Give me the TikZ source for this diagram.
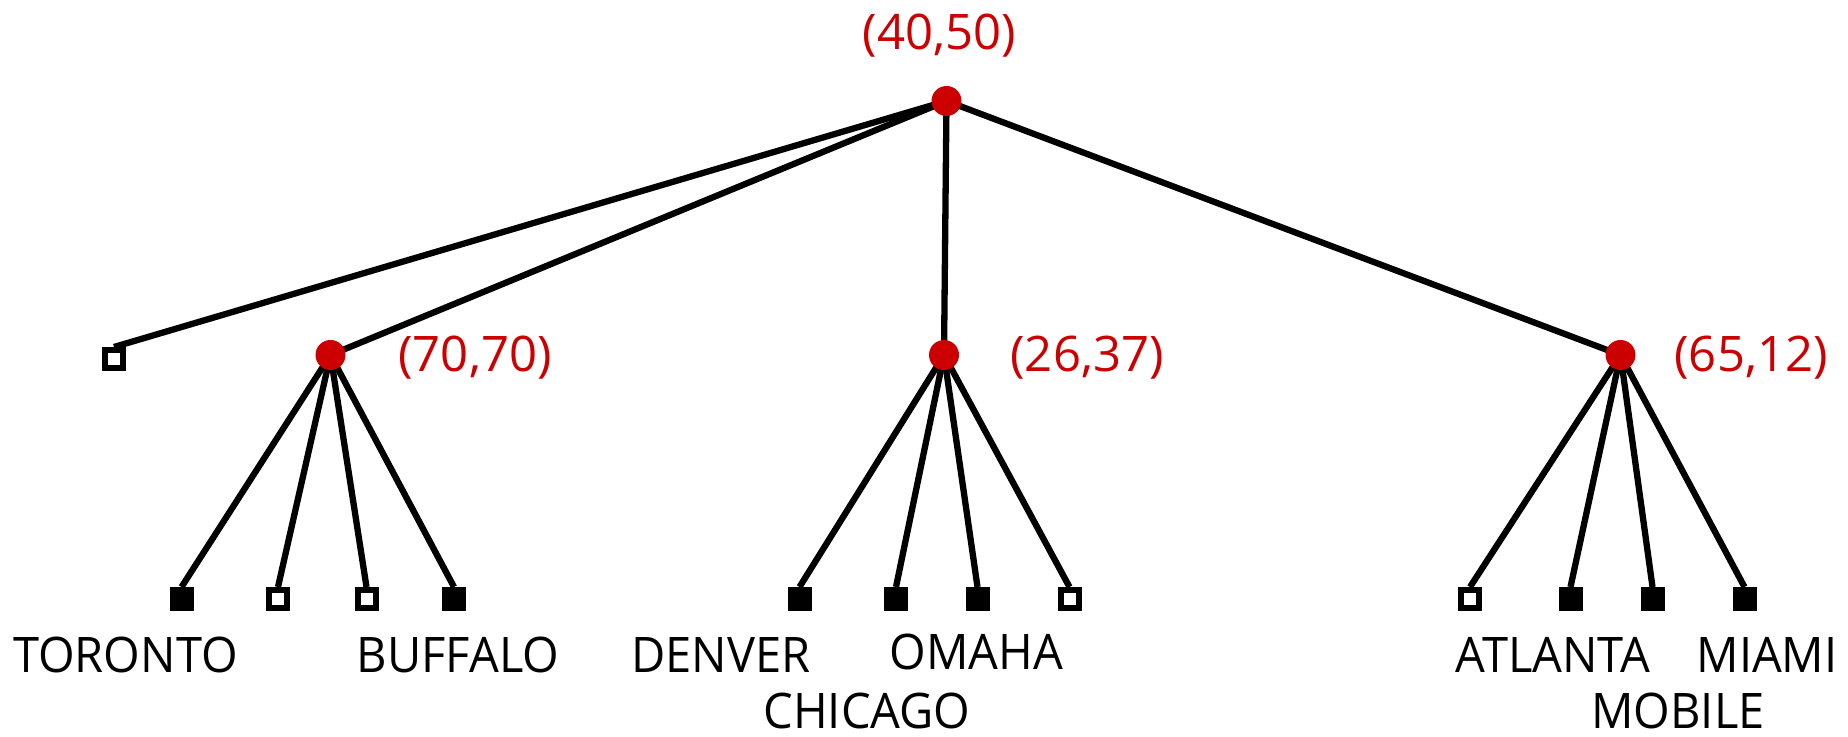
\documentclass[tikz,border=0pt]{standalone}
\usepackage{fontspec}
\setmainfont{Open Sans}
\newfontfamily\cityfont[FakeStretch=0.96]{Open Sans}
\usetikzlibrary{backgrounds}
\definecolor{dotred}{HTML}{CC0000}
\begin{document}
\begin{tikzpicture}[x=0.5pt,y=-0.5pt,
  edge/.style={line width=3.15pt},
  hub/.style={circle,fill=dotred,minimum size=15pt,inner sep=0pt},
  leaf/.style={rectangle,draw=black,line width=3pt,minimum size=9pt,inner sep=0pt,fill=black},
  emptyleaf/.style={leaf,fill=white},
  coordlabel/.style={text=dotred,font=\fontsize{24.5}{29}\selectfont,inner sep=0pt,anchor=base},
  city/.style={font=\cityfont\fontsize{24.5}{29}\selectfont,inner sep=0pt,anchor=base}]
\useasboundingbox (0,0) rectangle (1848,737);

% internal nodes
\node[hub] (root) at (946.5,101) {};
\node[hub] (h1) at (330.5,355) {};
\node[hub] (h2) at (944,355) {};
\node[hub] (h3) at (1620.5,355) {};

% their labels
\node[coordlabel] (lroot) at (939.5,50) {(40,50)};
\node[coordlabel] (lh1) at (475,372) {(70,70)};
\node[coordlabel] (lh2) at (1087,372) {(26,37)};
\node[coordlabel] (lh3) at (1751,372) {(65,12)};

% leaves
\node[emptyleaf] (s0) at (114,359) {};
\node[leaf] (a1) at (181.5,599) {};
\node[emptyleaf] (a2) at (278,599) {};
\node[emptyleaf] (a3) at (366.5,599) {};
\node[leaf] (a4) at (454,599) {};
\node[leaf] (b1) at (799.5,599) {};
\node[leaf] (b2) at (896,599) {};
\node[leaf] (b3) at (977.5,599) {};
\node[emptyleaf] (b4) at (1069.5,599) {};
\node[emptyleaf] (c1) at (1470,599) {};
\node[leaf] (c2) at (1570.5,599) {};
\node[leaf] (c3) at (1652.5,599) {};
\node[leaf] (c4) at (1744.5,599) {};

% city names
\node[city] (toronto) at (125.5,672) {TORONTO};
\node[city] (buffalo) at (458,672) {BUFFALO};
\node[city] (denver) at (721,672) {DENVER};
\node[city] (omaha) at (976.5,669) {OMAHA};
\node[city] (chicago) at (867,728) {CHICAGO};
\node[city] (atlanta) at (1553,672) {ATLANTA};
\node[city] (miami) at (1767,672) {MIAMI};
\node[city] (mobile) at (1678,728) {MOBILE};

% connectors
\begin{scope}[on background layer]
  \draw[edge] (root.center) -- (s0.north);
  \draw[edge] (root.center) -- (h1.center);
  \draw[edge] (root.center) -- (h2.center);
  \draw[edge] (root.center) -- (h3.center);
  \foreach \c in {a1,a2,a3,a4} \draw[edge] (h1.center) -- (\c.north);
  \foreach \c in {b1,b2,b3,b4} \draw[edge] (h2.center) -- (\c.north);
  \foreach \c in {c1,c2,c3,c4} \draw[edge] (h3.center) -- (\c.north);
\end{scope}
\end{tikzpicture}
\end{document}
